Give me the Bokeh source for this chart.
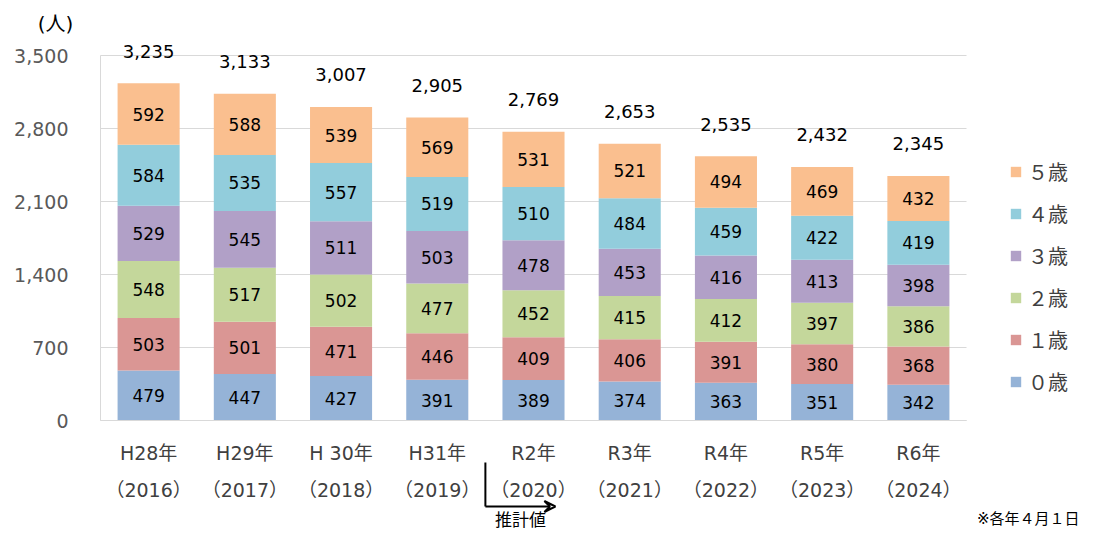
from bokeh.plotting import figure
from bokeh.models import (ColumnDataSource, FixedTicker, LinearAxis, LabelSet, Label,
                          Arrow, VeeHead, Legend, LegendItem, NumeralTickFormatter, Range1d)
from bokeh.embed import file_html
from bokeh.resources import INLINE
from bokeh.core.properties import value

# ---- data ----
year_labels = ["H28年", "H29年", "H 30年", "H31年", "R2年", "R3年", "R4年", "R5年", "R6年"]
year_western = ["（2016）", "（2017）", "（2018）", "（2019）", "（2020）", "（2021）", "（2022）", "（2023）", "（2024）"]
legend_names = ["０歳", "１歳", "２歳", "３歳", "４歳", "５歳"]
age0 = [479, 447, 427, 391, 389, 374, 363, 351, 342]
age1 = [503, 501, 471, 446, 409, 406, 391, 380, 368]
age2 = [548, 517, 502, 477, 452, 415, 412, 397, 386]
age3 = [529, 545, 511, 503, 478, 453, 416, 413, 398]
age4 = [584, 535, 557, 519, 510, 484, 459, 422, 419]
age5 = [592, 588, 539, 569, 531, 521, 494, 469, 432]
totals = [3235, 3133, 3007, 2905, 2769, 2653, 2535, 2432, 2345]
y_ticks = [0, 700, 1400, 2100, 2800, 3500]

colors = ["#95B3D7", "#DA9694", "#C4D79B", "#B1A0C7", "#92CDDC", "#FABF8F"]
FONT_S = "'DejaVu Sans', 'Noto Sans CJK JP', sans-serif"
FONT = value(FONT_S)

series = [age0, age1, age2, age3, age4, age5]
n = len(year_labels)
xs = [i + 0.5 for i in range(n)]

# ---- layout: the frame fills the figure; plot area spans px 100..966, y px 420..55 ----
W, H = 1080, 529
PX_LEFT, PX_RIGHT, PX_ZERO, PX_TOP = 100, 966, 420, 55
ppx = (PX_RIGHT - PX_LEFT) / n          # px per category
upp = y_ticks[-1] / (PX_ZERO - PX_TOP)   # data units per px (y)

p = figure(width=W, height=H, min_border=0,
           x_range=Range1d(-PX_LEFT / ppx, (W - PX_LEFT) / ppx),
           y_range=Range1d(-(H - PX_ZERO) * upp, PX_ZERO * upp),
           output_backend="svg", toolbar_location=None, x_axis_location=None)
p.outline_line_color = None
p.background_fill_color = "white"
p.xgrid.grid_line_color = None
p.ygrid.grid_line_color = None

# horizontal gridlines over the plot area only
p.segment(x0=[0] * len(y_ticks), x1=[n] * len(y_ticks), y0=y_ticks, y1=y_ticks,
          line_color="#D9D9D9", line_width=1)

# y axis at x=0
ya = p.yaxis[0]
ya.fixed_location = 0
ya.bounds = (0, y_ticks[-1])
ya.ticker = FixedTicker(ticks=y_ticks)
ya.formatter = NumeralTickFormatter(format="0,0")
ya.axis_line_color = "#D9D9D9"
ya.major_tick_line_color = None
ya.minor_tick_line_color = None
ya.major_label_standoff = 26
ya.major_label_text_font_size = "19px"
ya.major_label_text_color = "#595959"
ya.major_label_text_font = FONT_S

# x axes (two label lines) fixed at y=0
xt = FixedTicker(ticks=xs)
ax1 = LinearAxis(ticker=xt, major_label_overrides={x: l for x, l in zip(xs, year_labels)})
ax2 = LinearAxis(ticker=xt, major_label_overrides={x: l for x, l in zip(xs, year_western)})
for ax, so in ((ax1, 21), (ax2, 58)):
    ax.fixed_location = 0
    ax.bounds = (0, n)
    ax.major_tick_line_color = None
    ax.minor_tick_line_color = None
    ax.major_tick_out = 0
    ax.major_label_standoff = so
    ax.major_label_text_font_size = "19px"
    ax.major_label_text_color = "#404040"
    ax.major_label_text_font = FONT_S
ax1.axis_line_color = "#D9D9D9"
ax2.axis_line_color = None
p.add_layout(ax1, "below")
p.add_layout(ax2, "below")

# stacked bars
bottom = [0] * n
renderers = []
for k, vals in enumerate(series):
    top = [b + v for b, v in zip(bottom, vals)]
    mid = [(b + t) / 2 for b, t in zip(bottom, top)]
    src = ColumnDataSource(dict(x=xs, bottom=bottom, top=top, mid=mid,
                                lab=[str(v) for v in vals]))
    r = p.vbar(x="x", bottom="bottom", top="top", width=0.645, source=src,
               fill_color=colors[k], line_color=None)
    renderers.append(r)
    p.text(x="x", y="mid", text="lab", source=src, text_align="center",
           text_baseline="middle", text_font_size="17px", text_color="#000000",
           text_font=FONT)
    bottom = top

# totals
tsrc = ColumnDataSource(dict(x=xs, y=totals, lab=[f"{t:,}" for t in totals]))
p.add_layout(LabelSet(x="x", y="y", text="lab", source=tsrc, y_offset=32,
                      text_align="center", text_baseline="middle",
                      text_font_size="18px", text_color="#000000", text_font=FONT))

# legend
items = [LegendItem(label=legend_names[k], renderers=[renderers[k]]) for k in range(5, -1, -1)]
legend = Legend(items=items, location=(1009, 133), orientation="vertical",
                glyph_width=13, glyph_height=13, label_height=13, spacing=13,
                padding=0, margin=0, border_line_color=None, background_fill_alpha=0,
                label_text_font_size="20px", label_text_color="#404040",
                label_text_font=FONT_S, label_standoff=6, label_text_baseline="middle")
p.add_layout(legend, "center")

# unit label
p.add_layout(Label(x=(55 - PX_LEFT) / ppx, y=(PX_ZERO - 23) * upp, text="(人)",
                   text_align="center", text_baseline="middle",
                   text_font_size="20px", text_color="#000000", text_font=FONT_S))

# estimate arrow
ax_x = 4.0
y_a0 = -(462 - PX_ZERO) * upp
y_a1 = -(506 - PX_ZERO) * upp
p.add_layout(Arrow(x_start=ax_x, y_start=y_a0, x_end=ax_x, y_end=y_a1, end=None,
                   line_color="#000000", line_width=2))
p.add_layout(Arrow(x_start=ax_x, y_start=y_a1, x_end=ax_x + 70 / ppx, y_end=y_a1,
                   end=VeeHead(size=11, line_color="#000000", line_width=2, fill_alpha=0),
                   line_color="#000000", line_width=2))
p.add_layout(Label(x=ax_x + 35 / ppx, y=-(519 - PX_ZERO) * upp, text="推計値",
                   text_align="center", text_baseline="middle",
                   text_font_size="17px", text_color="#000000", text_font=FONT_S))
p.add_layout(Label(x=(1079 - PX_LEFT) / ppx, y=-(518 - PX_ZERO) * upp, text="※各年４月１日",
                   text_align="right", text_baseline="middle",
                   text_font_size="15px", text_color="#000000", text_font=FONT_S))

open("out.html", "w").write(file_html(p, INLINE))
